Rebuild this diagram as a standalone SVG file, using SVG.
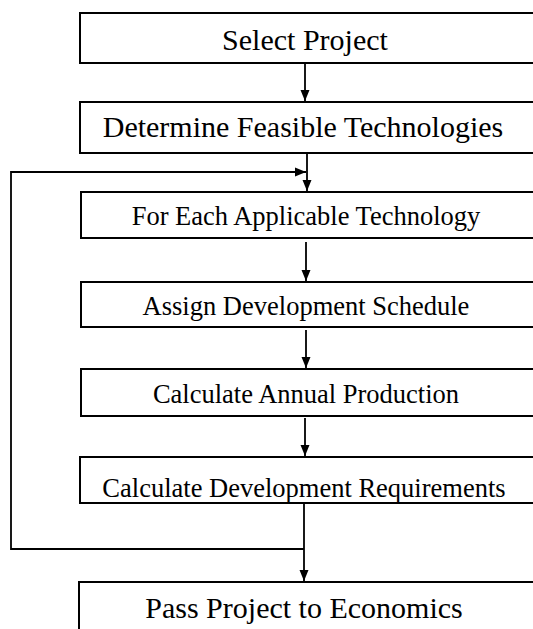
<svg xmlns="http://www.w3.org/2000/svg" width="533" height="629" viewBox="0 0 533 629">
<style>
.box{fill:#fff;stroke:#000;stroke-width:2}
.t{font-family:"Liberation Serif","Times New Roman",serif;text-anchor:middle;fill:#000}
.big{font-size:30px}
.sm{font-size:26.5px}
.c{fill:none;stroke:#000;stroke-width:1.8}
</style>
<defs>
<marker id="ah" markerWidth="12" markerHeight="12" refX="11" refY="6" orient="auto" markerUnits="userSpaceOnUse">
<path d="M0,1.5 L11,6 L0,10.5 Z" fill="#000"/>
</marker>
</defs>
<rect width="533" height="629" fill="#fff"/>
<g id="n1"><rect class="box" x="80" y="13" width="470" height="50"/><text class="t big" x="305" y="50">Select Project</text></g>
<g id="n2"><rect class="box" x="80" y="102" width="470" height="51"/><text class="t big" x="303" y="137">Determine Feasible Technologies</text></g>
<g id="n3"><rect class="box" x="81" y="192" width="470" height="46"/><text class="t sm" x="306" y="225">For Each Applicable Technology</text></g>
<g id="n4"><rect class="box" x="81" y="282" width="470" height="45"/><text class="t sm" x="306" y="315">Assign Development Schedule</text></g>
<g id="n5"><rect class="box" x="81" y="369" width="470" height="47"/><text class="t sm" x="306" y="403">Calculate Annual Production</text></g>
<g id="n6"><rect class="box" x="80" y="457" width="470" height="46"/><text class="t sm" x="304" y="497">Calculate Development Requirements</text></g>
<g id="n7"><rect class="box" x="79" y="582" width="470" height="60"/><text class="t big" x="304" y="618">Pass Project to Economics</text></g>
<g id="connectors">
<line class="c" x1="305" y1="63" x2="305" y2="101" marker-end="url(#ah)"/>
<line class="c" x1="307" y1="153" x2="307" y2="191" marker-end="url(#ah)"/>
<polyline class="c" points="304,549 11,549 11,172 306,172" marker-end="url(#ah)"/>
<line class="c" x1="306" y1="242" x2="306" y2="281" marker-end="url(#ah)"/>
<line class="c" x1="306" y1="330" x2="306" y2="368" marker-end="url(#ah)"/>
<line class="c" x1="305" y1="418" x2="305" y2="456" marker-end="url(#ah)"/>
<line class="c" x1="304" y1="503" x2="304" y2="581" marker-end="url(#ah)"/>
</g>
</svg>
